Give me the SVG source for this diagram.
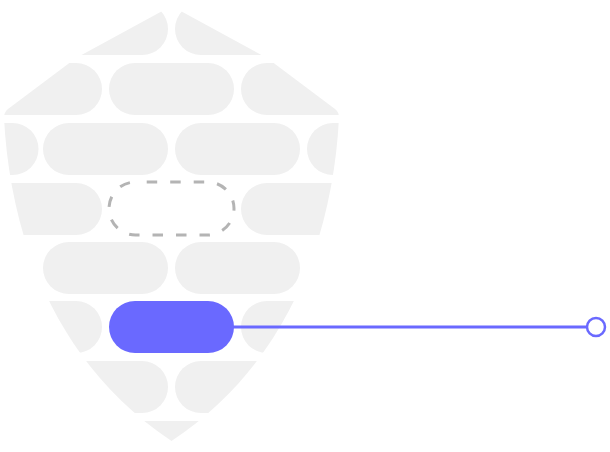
<svg xmlns="http://www.w3.org/2000/svg" width="610" height="452" viewBox="0 0 610 452">
  <style>
    .brick { fill: #f0f0f0; }
    .slot { fill: none; stroke: #b4b4b4; stroke-width: 3; stroke-dasharray: 10.5 13; stroke-dashoffset: 12.3; }
    .active { fill: #6a69ff; }
    .link { stroke: #6a69ff; stroke-width: 3; fill: none; }
    .end { fill: #ffffff; stroke: #6a69ff; stroke-width: 2.5; }
  </style>
  <defs>
    <clipPath id="shield">
      <path d="M171.5,6 L76,58 L8,109 Q4,112 4,118 C10,230 50,360 171.5,441 C293,360 333,230 339,118 Q339,112 335,109 L267,58 Z"/>
    </clipPath>
    <rect id="pill" width="125" height="52" rx="26" ry="26"/>
  </defs>
  <rect width="610" height="452" fill="#ffffff"/>
  <g id="shield-bricks" clip-path="url(#shield)">
    <use href="#pill" class="brick" x="43" y="3"/>
    <use href="#pill" class="brick" x="175" y="3"/>
    <use href="#pill" class="brick" x="-23" y="63"/>
    <use href="#pill" class="brick" x="109" y="63"/>
    <use href="#pill" class="brick" x="241" y="63"/>
    <use href="#pill" class="brick" x="-86.5" y="123"/>
    <use href="#pill" class="brick" x="43" y="123"/>
    <use href="#pill" class="brick" x="175" y="123"/>
    <use href="#pill" class="brick" x="307" y="123"/>
    <use href="#pill" class="brick" x="-23" y="183"/>
    <use href="#pill" class="brick" x="241" y="183"/>
    <use href="#pill" class="brick" x="43" y="242"/>
    <use href="#pill" class="brick" x="175" y="242"/>
    <use href="#pill" class="brick" x="-23" y="301"/>
    <use href="#pill" class="brick" x="241" y="301"/>
    <use href="#pill" class="brick" x="43" y="361"/>
    <use href="#pill" class="brick" x="175" y="361"/>
    <use href="#pill" class="brick" x="109" y="421"/>
  </g>
  <g id="empty-slot">
    <rect class="slot" x="109" y="182" width="125" height="53" rx="26.5" ry="26.5"/>
  </g>
  <g id="connectors">
    <line class="link" x1="232" y1="327" x2="587" y2="327"/>
  </g>
  <g id="active-brick">
    <rect class="active" x="109" y="301" width="125" height="52" rx="26" ry="26"/>
  </g>
  <g id="endpoint">
    <circle class="end" cx="596" cy="327" r="9"/>
  </g>
</svg>
